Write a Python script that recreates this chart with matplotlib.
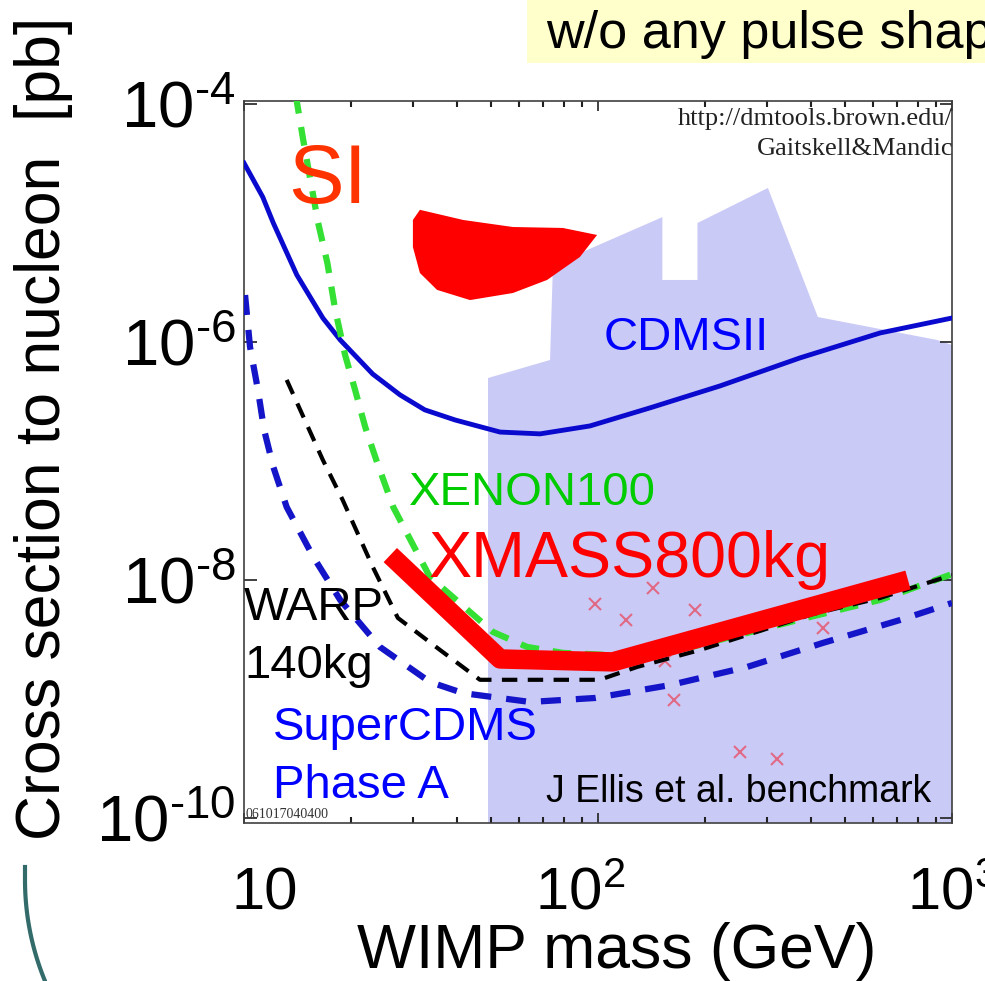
import numpy as np
import matplotlib
matplotlib.use('Agg')
import matplotlib.pyplot as plt
from matplotlib.lines import Line2D
from matplotlib.patches import Rectangle
from matplotlib.transforms import ScaledTranslation

plt.rcParams['font.family'] = ['Liberation Sans', 'DejaVu Sans']
plt.rcParams['mathtext.fontset'] = 'custom'
plt.rcParams['mathtext.rm'] = 'Liberation Sans'
plt.rcParams['mathtext.default'] = 'regular'

# CDMSII current limit (solid blue)
cdms_mass = [10, 11.3, 12.1, 14.1, 16.7, 18.7, 23.1, 27.6, 32.4, 39.5, 52.9, 68.6, 94.9, 140, 221,
             372, 626, 1000]
cdms_xs = [3.19e-5, 1.65e-5, 1.0e-5, 3.66e-6, 1.59e-6, 1.04e-6, 5.38e-7, 3.59e-7, 2.69e-7,
           2.21e-7, 1.75e-7, 1.69e-7, 1.97e-7, 2.79e-7, 4.27e-7, 7.35e-7, 1.19e-6, 1.59e-6]

# XENON100 projection (green dashed)
xenon_mass = [14.0, 14.7, 15.4, 16.2, 17.2, 18.1, 19.3, 20.6, 22.0, 23.8, 26.4, 33.5, 50.5,
              63.0, 79.6, 108, 170, 397, 626, 1000]
xenon_xs = [1.19e-4, 4.98e-5, 2.30e-5, 1.0e-5, 4.61e-6, 1.86e-6, 7.78e-7, 3.95e-7, 1.93e-7,
            9.61e-8, 4.10e-8, 1.06e-8, 3.66e-9, 2.74e-9, 2.44e-9, 2.34e-9, 2.58e-9, 4.89e-9,
            6.79e-9, 1.12e-8]

# WARP 140kg (black dashed)
warp_mass = [13.2, 16.7, 19.0, 23.1, 27.2, 35.8, 46.4, 101, 129, 194, 405, 626, 1000]
warp_xs = [4.80e-7, 1.02e-7, 4.70e-8, 1.29e-8, 4.80e-9, 2.58e-9, 1.45e-9, 1.45e-9, 1.86e-9,
           2.58e-9, 5.18e-9, 7.06e-9, 1.10e-8]

# SuperCDMS Phase A (blue dashed)
scdms_mass = [10.07, 10.4, 10.95, 11.4, 12.1, 13.2, 15.7, 18.7, 24.2, 33.5, 41.6, 64.3, 98.1,
              160, 264, 432, 713, 1000]
scdms_xs = [2.48e-6, 9.08e-7, 3.95e-7, 1.82e-7, 8.91e-8, 4.10e-8, 1.56e-8, 6.79e-9, 2.74e-9,
            1.39e-9, 1.12e-9, 9.44e-10, 1.02e-9, 1.31e-9, 1.86e-9, 2.96e-9, 4.61e-9, 6.41e-9]

# XMASS 800kg (thick red)
xmass_mass = [25.9, 52.9, 110, 751]
xmass_xs = [1.62e-8, 2.17e-9, 2.05e-9, 1.0e-8]

# DAMA region (red blob)
dama_mass = [31.4, 41.6, 57.5, 79.6, 99.4, 88.9, 71.8, 57.5, 43.5, 35.1, 31.4, 30.0, 30.0]
dama_xs = [1.29e-5, 1.06e-5, 9.25e-6, 9.08e-6, 7.93e-6, 5.18e-6, 3.32e-6, 2.58e-6, 2.25e-6,
           2.74e-6, 3.80e-6, 6.28e-6, 1.06e-5]

# theory region (lavender)
region_mass = [48.9, 48.9, 73.2, 74.6, 152, 152, 191, 191, 302, 418, 907, 1000, 1000]
region_xs = [1e-11, 4.98e-7, 7.06e-7, 4.44e-6, 1.12e-5, 3.32e-6, 3.32e-6, 1.0e-5, 1.97e-5,
             1.62e-6, 1.04e-6, 9.44e-7, 1e-11]

# J Ellis et al. benchmark points
bench_mass = [98.1, 120, 143, 188, 155, 164, 432, 252, 321]
bench_xs = [6.28e-9, 4.61e-9, 8.57e-9, 5.60e-9, 2.09e-9, 9.81e-10, 3.95e-9, 3.59e-10, 3.13e-10]

HY = '\u2010'
xticks = [10, 100, 1000]
xticklabels = ['10', r'$10^{2}$', r'$10^{3}$']
yticks = [1e-10, 1e-8, 1e-6, 1e-4]
yticklabels = ['$10^{' + HY + '10}$', '$10^{' + HY + '8}$', '$10^{' + HY + '6}$', '$10^{' + HY + '4}$']

fig = plt.figure(figsize=(9.85, 9.81), dpi=100)
ax = fig.add_axes([244 / 985, 1 - 823 / 981, 708 / 985, 722 / 981])
ax.set_xscale('log')
ax.set_yscale('log')
ax.set_xlim(10, 1000)
ax.set_ylim(10 ** -10.042, 10 ** -3.975)

ax.fill(region_mass, region_xs, color='#CACAF7', lw=0, zorder=1)
ax.fill(dama_mass, dama_xs, color='#FF0000', lw=0, zorder=2)
ax.plot(bench_mass, bench_xs, 'x', color='#E06A85', ms=9, mew=1.5, zorder=2)
ax.plot(cdms_mass, cdms_xs, color='#0A0ACF', lw=3.5, zorder=3)
ax.plot(scdms_mass, scdms_xs, color='#1414C8', lw=4.5, dashes=(3.2, 2.4), zorder=3)
ax.plot(xenon_mass, xenon_xs, color='#33E033', lw=4.5, dashes=(3, 2.2), zorder=3)
ax.plot(warp_mass, warp_xs, color='black', lw=3, dashes=(3.7, 2.5), zorder=4)
ax.plot(xmass_mass, xmass_xs, color='#FF0000', lw=14, solid_capstyle='butt', zorder=5)

# labels inside the plot
ax.text(0.062, 0.859, 'SI', transform=ax.transAxes, fontsize=60, color='#FF3300')
ax.text(0.508, 0.655, 'CDMSII', transform=ax.transAxes, fontsize=34, color='#0000FF')
ax.text(0.233, 0.440, 'XENON100', transform=ax.transAxes, fontsize=34, color='#00CC00')
ax.text(0.260, 0.341, 'XMASS800kg', transform=ax.transAxes, fontsize=46.5, color='#FF0000', zorder=6)
ax.text(0.0, 0.281, 'WARP', transform=ax.transAxes, fontsize=34, color='black')
ax.text(0.0, 0.201, '140kg', transform=ax.transAxes, fontsize=34, color='black')
ax.text(0.041, 0.115, 'SuperCDMS', transform=ax.transAxes, fontsize=34, color='#0000FF')
ax.text(0.041, 0.0346, 'Phase A', transform=ax.transAxes, fontsize=34, color='#0000FF')
ax.text(0.427, 0.029, 'J Ellis et al. benchmark', transform=ax.transAxes, fontsize=27, color='black')
ax.text(0.613, 0.967, 'http://dmtools.brown.edu/', transform=ax.transAxes, fontsize=19,
        family='Liberation Serif', color='#222222', clip_on=True)
ax.text(0.7246, 0.925, 'Gaitskell&Mandic', transform=ax.transAxes, fontsize=19,
        family='Liberation Serif', color='#222222', clip_on=True)
ax.text(0.002, 0.007, '061017040400', transform=ax.transAxes, fontsize=10,
        family='Liberation Serif', color='#333333')

# axes styling
for s in ax.spines.values():
    s.set_color('#404040')
    s.set_linewidth(1.2)
ax.set_xticks(xticks, xticklabels, fontsize=43, va='baseline')
ax.set_yticks(yticks, yticklabels, fontsize=47)
ax.yaxis.set_minor_locator(matplotlib.ticker.NullLocator())
ax.tick_params(axis='both', which='both', direction='in', top=True, right=True, color='#202020')
ax.tick_params(axis='x', which='major', length=7, width=1.2, pad=62)
ax.tick_params(axis='x', which='minor', length=4, width=1.5)
ax.tick_params(axis='y', which='major', length=9, width=1.2, pad=6)
offsets = [21, -18, 0]
for lab, dx in zip(ax.get_xticklabels(), offsets):
    lab.set_transform(lab.get_transform() + ScaledTranslation(dx / 100, 0, fig.dpi_scale_trans))

ax.set_xlabel('WIMP mass (GeV)', fontsize=45)
ax.xaxis.set_label_coords(0.527, -0.2008)
ax.xaxis.label.set_verticalalignment('baseline')
ax.set_ylabel('Cross section to nucleon  [pb]', fontsize=45)
ax.yaxis.set_label_coords(-0.260, 0.547)
ax.yaxis.label.set_verticalalignment('baseline')

# slide decorations
fig.add_artist(Rectangle((527 / 985, 1 - 63 / 981), 1 - 527 / 985, 63 / 981,
                         transform=fig.transFigure, facecolor='#FFFFCC', edgecolor='none', zorder=0))
fig.text(546 / 985, 1 - 48 / 981, 'w/o any pulse shape discrimination', fontsize=37.5, va='baseline')
arc_y = np.linspace(867, 981, 50)
arc_x = np.where(arc_y < 880, 25, 290 - np.sqrt(265 ** 2 - np.clip(arc_y - 880, 0, None) ** 2))
fig.add_artist(Line2D(arc_x / 985, 1 - arc_y / 981, transform=fig.transFigure,
                      color='#336B6B', lw=3))

fig.savefig('out.png', dpi=100)
